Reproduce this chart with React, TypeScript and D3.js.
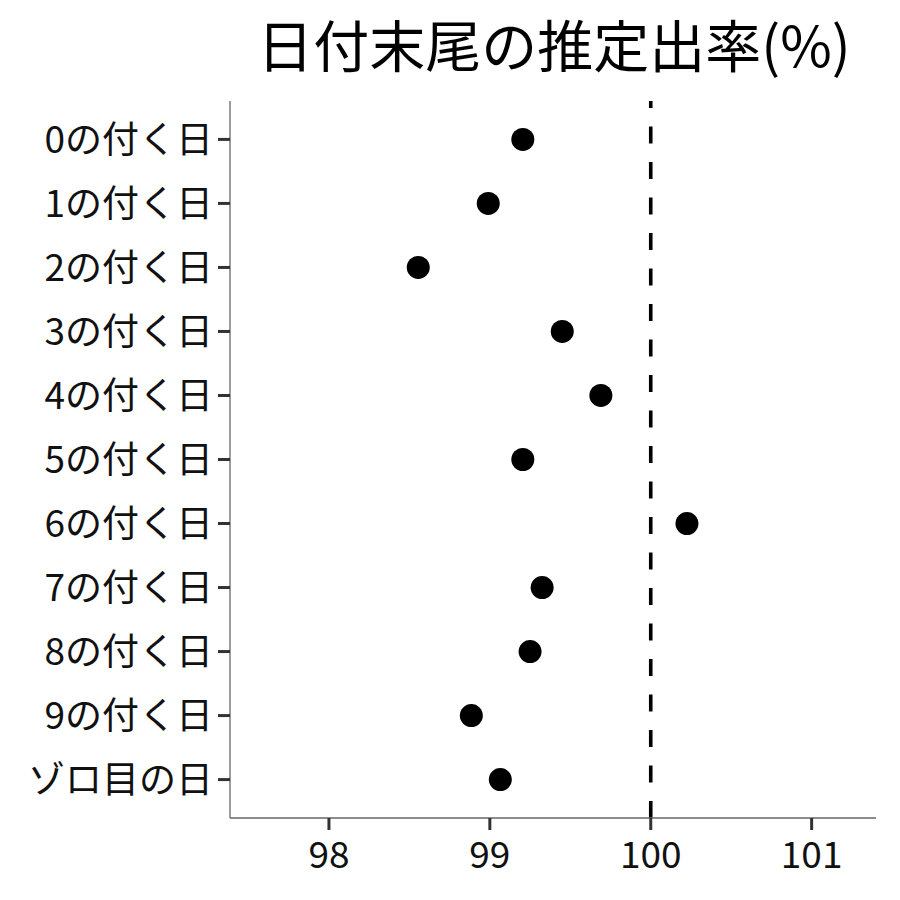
import React from "react";
import * as d3 from "d3";

const categories = ["0の付く日","1の付く日","2の付く日","3の付く日","4の付く日","5の付く日","6の付く日","7の付く日","8の付く日","9の付く日","ゾロ目の日"];
const values = [99.205, 98.99, 98.555, 99.45, 99.69, 99.205, 100.225, 99.325, 99.25, 98.885, 99.065];
const xTicks = [98, 99, 100, 101];
const refValue = 100;
const title = "日付末尾の推定出率(%)";

const W = 900, H = 900;
const left = 230, right = 876, top = 101, bottom = 818;
const font = "'Noto Sans CJK JP', 'Noto Sans', sans-serif";

export default function App() {
  const x = d3.scaleLinear().domain([97.385, 101.4]).range([left, right]);
  const y = d3.scalePoint<string>().domain(categories).range([top, bottom]).padding(0.6);
  return (
    <svg width={W} height={H} style={{ position: "absolute", left: 0, top: 0, background: "#fff" }} fontFamily={font}>
      <rect x={0} y={0} width={W} height={H} fill="#fff" />
      <text x={(left + right) / 2 + 1} y={67} textAnchor="middle" fontSize={56} fill="#000">{title}</text>
      <line x1={x(refValue)} x2={x(refValue)} y1={bottom} y2={top} stroke="#000" strokeWidth={3.6} strokeDasharray="17,18.5" />
      <line x1={left} x2={left} y1={top} y2={bottom} stroke="#666" strokeWidth={1.3} />
      <line x1={left} x2={right} y1={bottom} y2={bottom} stroke="#666" strokeWidth={1.3} />
      {categories.map((c) => (
        <g key={c}>
          <line x1={left - 12} x2={left} y1={y(c)} y2={y(c)} stroke="#333" strokeWidth={3} />
          <text x={left - 17} y={y(c)!} dy="0.36em" textAnchor="end" fontSize={37} fill="#111">{c}</text>
        </g>
      ))}
      {xTicks.map((t) => (
        <g key={t}>
          <line x1={x(t)} x2={x(t)} y1={bottom} y2={bottom + 12} stroke="#333" strokeWidth={3} />
          <text x={x(t)} y={868} textAnchor="middle" fontSize={37} fill="#111">{t}</text>
        </g>
      ))}
      {categories.map((c, i) => (
        <circle key={c} cx={x(values[i])} cy={y(c)} r={11.5} fill="#000" />
      ))}
    </svg>
  );
}
